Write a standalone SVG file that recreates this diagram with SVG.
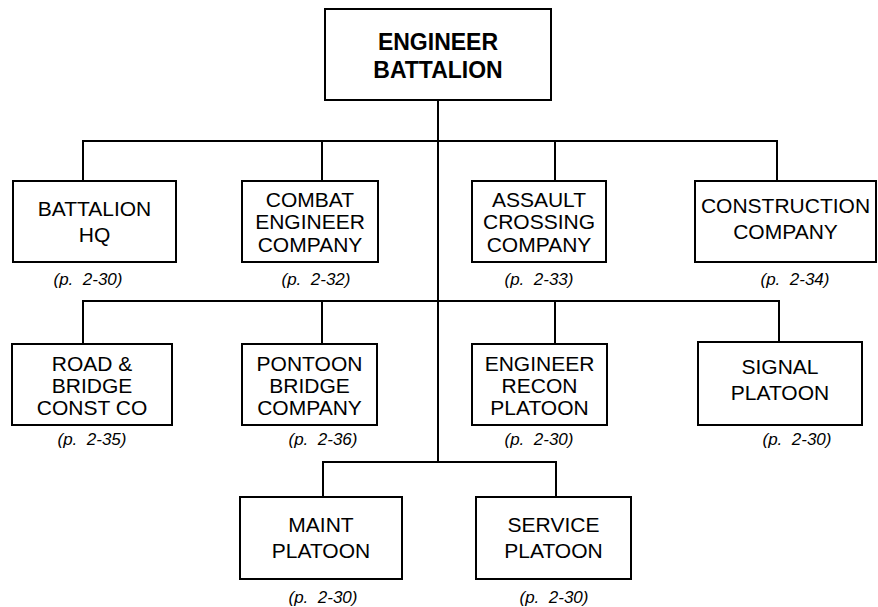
<svg xmlns="http://www.w3.org/2000/svg" width="878" height="607" viewBox="0 0 878 607">
<style>
.box{fill:#fff;stroke:#000;stroke-width:2}
.t{font-family:"Liberation Sans",Arial,sans-serif;font-size:21px;text-anchor:middle;fill:#000}
.tb{font-family:"Liberation Sans",Arial,sans-serif;font-size:23px;font-weight:bold;text-anchor:middle;fill:#000}
.p{font-family:"Liberation Sans",Arial,sans-serif;font-size:17px;font-style:italic;text-anchor:middle;fill:#000;white-space:pre}
.c{fill:none;stroke:#000;stroke-width:2}
</style>
<rect width="878" height="607" fill="#fff"/>
<g id="connectors" class="c">
<path d="M438 100V462"/>
<path d="M83 181V141H777V181M322 141V181M555 141V181"/>
<path d="M83 344V301H779V342M322 301V344M555 301V344"/>
<path d="M323 497V462H556V497"/>
</g>
<g id="n-battalion">
<rect class="box" x="325" y="9" width="226" height="91"/>
<text class="tb" x="438" y="50">ENGINEER</text>
<text class="tb" x="438" y="78">BATTALION</text>
</g>
<g id="n-hq">
<rect class="box" x="13" y="181" width="163" height="81"/>
<text class="t" x="94.5" y="215.5">BATTALION</text>
<text class="t" x="94.5" y="241.5">HQ</text>
<text class="p" x="88" y="285" xml:space="preserve">(p.  2-30)</text>
</g>
<g id="n-combat">
<rect class="box" x="242" y="181" width="136" height="81"/>
<text class="t" x="310" y="206.5">COMBAT</text>
<text class="t" x="310" y="229">ENGINEER</text>
<text class="t" x="310" y="251.5">COMPANY</text>
<text class="p" x="316" y="285" xml:space="preserve">(p.  2-32)</text>
</g>
<g id="n-assault">
<rect class="box" x="472" y="181" width="134" height="81"/>
<text class="t" x="539" y="206.5">ASSAULT</text>
<text class="t" x="539" y="229">CROSSING</text>
<text class="t" x="539" y="251.5">COMPANY</text>
<text class="p" x="539" y="285" xml:space="preserve">(p.  2-33)</text>
</g>
<g id="n-construction">
<rect class="box" x="695" y="181" width="181" height="81"/>
<text class="t" x="785.5" y="213">CONSTRUCTION</text>
<text class="t" x="785.5" y="239">COMPANY</text>
<text class="p" x="795" y="285" xml:space="preserve">(p.  2-34)</text>
</g>
<g id="n-road">
<rect class="box" x="12" y="344" width="160" height="81"/>
<text class="t" x="92" y="371">ROAD &amp;</text>
<text class="t" x="92" y="393">BRIDGE</text>
<text class="t" x="92" y="415">CONST CO</text>
<text class="p" x="92" y="445" xml:space="preserve">(p.  2-35)</text>
</g>
<g id="n-pontoon">
<rect class="box" x="242" y="344" width="135" height="81"/>
<text class="t" x="309.5" y="371">PONTOON</text>
<text class="t" x="309.5" y="393">BRIDGE</text>
<text class="t" x="309.5" y="415">COMPANY</text>
<text class="p" x="323" y="445" xml:space="preserve">(p.  2-36)</text>
</g>
<g id="n-recon">
<rect class="box" x="472" y="344" width="135" height="81"/>
<text class="t" x="539.5" y="371">ENGINEER</text>
<text class="t" x="539.5" y="393">RECON</text>
<text class="t" x="539.5" y="415">PLATOON</text>
<text class="p" x="539" y="445" xml:space="preserve">(p.  2-30)</text>
</g>
<g id="n-signal">
<rect class="box" x="698" y="342" width="164" height="83"/>
<text class="t" x="780" y="374">SIGNAL</text>
<text class="t" x="780" y="400">PLATOON</text>
<text class="p" x="797" y="445" xml:space="preserve">(p.  2-30)</text>
</g>
<g id="n-maint">
<rect class="box" x="240" y="497" width="162" height="82"/>
<text class="t" x="321" y="531.5">MAINT</text>
<text class="t" x="321" y="558">PLATOON</text>
<text class="p" x="323" y="603" xml:space="preserve">(p.  2-30)</text>
</g>
<g id="n-service">
<rect class="box" x="476" y="497" width="155" height="82"/>
<text class="t" x="553.5" y="531.5">SERVICE</text>
<text class="t" x="553.5" y="558">PLATOON</text>
<text class="p" x="554" y="603" xml:space="preserve">(p.  2-30)</text>
</g>
</svg>
